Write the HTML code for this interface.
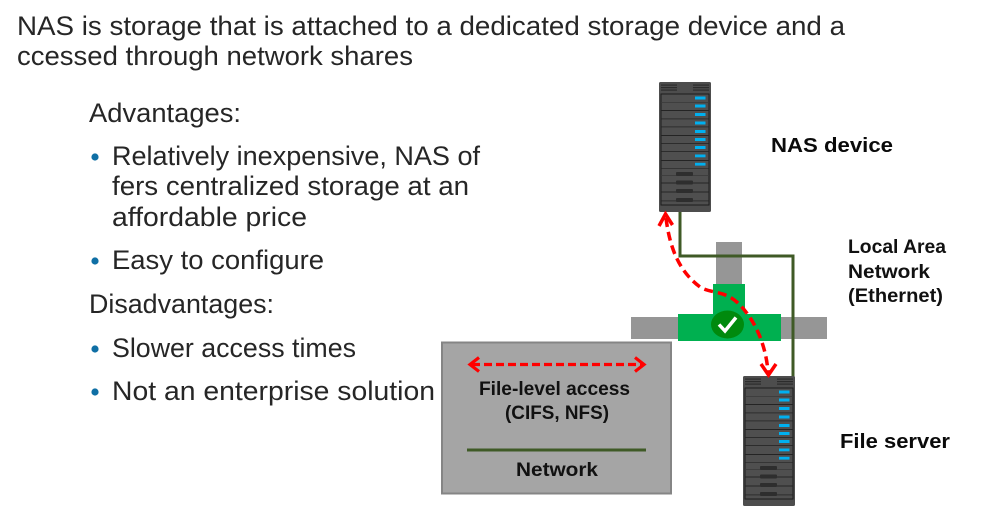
<!DOCTYPE html>
<html>
<head>
<meta charset="utf-8">
<style>
html,body{margin:0;padding:0;background:#fff;width:982px;height:518px;overflow:hidden}
svg{display:block}
text{font-family:"Liberation Sans",sans-serif;fill:#262626}
.t{font-size:27px}
.b{font-size:20px;font-weight:bold;fill:#0a0a0a}
.c{font-size:19px;font-weight:bold;fill:#111}
</style>
</head>
<body>
<svg width="982" height="518" viewBox="0 0 982 518" xmlns="http://www.w3.org/2000/svg">
<defs>
  <g id="srv">
    <rect x="0" y="0" width="52" height="130" rx="1.5" fill="#4d4d4d"/>
    <g fill="#2c2c2c">
      <rect x="2" y="2.5" width="16" height="1.2"/><rect x="2" y="5" width="16" height="1.2"/><rect x="2" y="7.5" width="16" height="1.2"/>
      <rect x="34" y="2.5" width="16" height="1.2"/><rect x="34" y="5" width="16" height="1.2"/><rect x="34" y="7.5" width="16" height="1.2"/>
    </g>
    <rect x="2" y="12" width="48" height="111" fill="#4f4f4f" stroke="#1c1c1c" stroke-width="1"/>
    <g fill="#242424">
      <rect x="2" y="28" width="48" height="1"/><rect x="2" y="36.5" width="48" height="0.8"/>
      <rect x="2" y="44.5" width="48" height="0.8"/><rect x="2" y="53" width="48" height="1"/><rect x="2" y="61" width="48" height="0.8"/>
      <rect x="2" y="78" width="48" height="1"/><rect x="2" y="100.5" width="48" height="1"/><rect x="2" y="109.5" width="48" height="1"/>
      <rect x="2" y="118.5" width="48" height="0.8"/><rect x="2" y="69" width="48" height="0.8"/><rect x="2" y="86" width="48" height="0.6"/>
    </g>
    <g fill="#3a3a3a">
      <rect x="2" y="20" width="48" height="0.8"/><rect x="2" y="93" width="48" height="0.8"/>
    </g>
    <g fill="#00b0f0">
      <rect x="36" y="14.500" width="10.500" height="3"/><rect x="36" y="22.500" width="10.500" height="3"/><rect x="36" y="31" width="10.500" height="3"/>
      <rect x="36" y="39.500" width="10.500" height="3"/><rect x="36" y="48" width="10.500" height="3"/><rect x="36" y="56" width="10.500" height="3"/>
      <rect x="36" y="64" width="10.500" height="3"/><rect x="36" y="72.500" width="10.500" height="2.800"/><rect x="36" y="80.800" width="10.500" height="2.800"/>
    </g>
    <g fill="#2e2e2e">
      <rect x="17" y="90" width="17" height="4" rx="1"/><rect x="17" y="98.500" width="17" height="4" rx="1"/>
      <rect x="17" y="107" width="17" height="4" rx="1"/><rect x="17" y="116" width="17" height="4" rx="1"/>
    </g>
  </g>
</defs>

<text class="t" x="17" y="35" textLength="828" lengthAdjust="spacingAndGlyphs">NAS is storage that is attached to a dedicated storage device and a</text>
<text class="t" x="17" y="65" textLength="396" lengthAdjust="spacingAndGlyphs">ccessed through network shares</text>

<text class="t" x="89" y="122" textLength="152" lengthAdjust="spacingAndGlyphs">Advantages:</text>
<circle cx="95" cy="157" r="3.600" fill="#0f6fa5"/>
<text class="t" x="112" y="165" textLength="368" lengthAdjust="spacingAndGlyphs">Relatively inexpensive, NAS of</text>
<text class="t" x="112" y="195" textLength="357" lengthAdjust="spacingAndGlyphs">fers centralized storage at an</text>
<text class="t" x="112" y="226" textLength="195" lengthAdjust="spacingAndGlyphs">affordable price</text>
<circle cx="95" cy="261" r="3.600" fill="#0f6fa5"/>
<text class="t" x="112" y="269" textLength="212" lengthAdjust="spacingAndGlyphs">Easy to configure</text>
<text class="t" x="89" y="313" textLength="185" lengthAdjust="spacingAndGlyphs">Disadvantages:</text>
<circle cx="95" cy="349" r="3.600" fill="#0f6fa5"/>
<text class="t" x="112" y="357" textLength="244" lengthAdjust="spacingAndGlyphs">Slower access times</text>
<circle cx="95" cy="392" r="3.600" fill="#0f6fa5"/>
<text class="t" x="112" y="400" textLength="323" lengthAdjust="spacingAndGlyphs">Not an enterprise solution</text>

<rect x="716" y="242" width="26" height="50" fill="#969696"/>
<rect x="631" y="317" width="196" height="22" fill="#969696"/>
<rect x="713" y="284" width="32" height="32" fill="#00b050"/>
<rect x="678" y="314" width="103" height="27" fill="#00b050"/>
<ellipse cx="727.500" cy="324.500" rx="16.500" ry="14" fill="#008a0e"/>
<path d="M719 324.500 L725 331 L736 317.500" fill="none" stroke="#fff" stroke-width="3.500"/>

<path d="M680 212 V256 H793 V377" fill="none" stroke="#3f5a26" stroke-width="3"/>

<rect x="442" y="342.500" width="229" height="151" fill="#a5a5a5" stroke="#858585" stroke-width="2"/>

<use href="#srv" x="659" y="82"/>
<use href="#srv" x="743" y="376"/>

<path d="M666 218 C670 250 680 272 700 287 C712 294 725 290 739 304 C755 320 766 345 768 372" fill="none" stroke="#ff0000" stroke-width="3.500" stroke-dasharray="9 5"/>
<path d="M659 226 L665.500 214 L672.500 225" fill="none" stroke="#ff0000" stroke-width="3.500"/>
<path d="M761 364 L768.500 375 L776 364" fill="none" stroke="#ff0000" stroke-width="3.500"/>

<path d="M472 364.500 H642" fill="none" stroke="#ff0000" stroke-width="3.200" stroke-dasharray="8 4"/>
<path d="M479 357.500 L470 364.500 L479 371.500" fill="none" stroke="#ff0000" stroke-width="3.200"/>
<path d="M635 357.500 L644 364.500 L635 371.500" fill="none" stroke="#ff0000" stroke-width="3.200"/>
<rect x="467" y="448.500" width="179" height="3" fill="#3f5a26"/>

<text class="c" x="479" y="395" textLength="151" lengthAdjust="spacingAndGlyphs">File-level access</text>
<text class="c" x="505" y="419" textLength="104" lengthAdjust="spacingAndGlyphs">(CIFS, NFS)</text>
<text class="c" x="516" y="476" textLength="82" lengthAdjust="spacingAndGlyphs">Network</text>

<text class="b" x="771" y="152" textLength="122" lengthAdjust="spacingAndGlyphs">NAS device</text>
<text class="c" x="848" y="253" textLength="98" lengthAdjust="spacingAndGlyphs">Local Area</text>
<text class="c" x="848" y="278" textLength="82" lengthAdjust="spacingAndGlyphs">Network</text>
<text class="c" x="848" y="302" textLength="95" lengthAdjust="spacingAndGlyphs">(Ethernet)</text>
<text class="b" x="840" y="448" textLength="110" lengthAdjust="spacingAndGlyphs">File server</text>
</svg>
</body>
</html>
